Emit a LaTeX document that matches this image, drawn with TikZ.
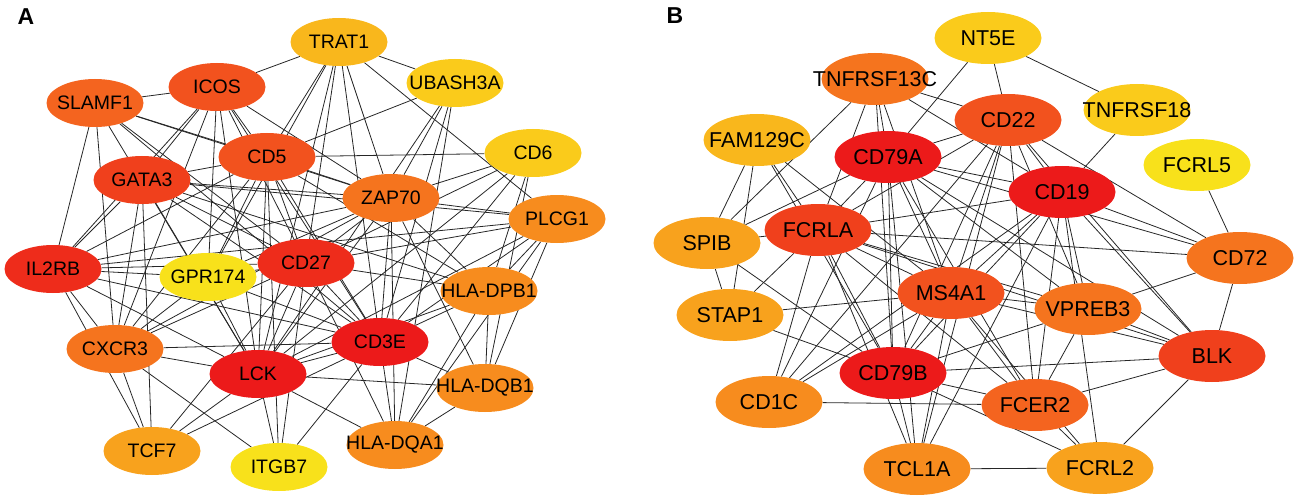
\documentclass[tikz,border=0pt]{standalone}
\usepackage{fontspec}
\setmainfont{Liberation Sans}
\usetikzlibrary{shapes.geometric,backgrounds}

% degree shades, red = high, yellow = low
\definecolor{deg1}{HTML}{EC1A1A}
\definecolor{deg2}{HTML}{EE2C1B}
\definecolor{deg3}{HTML}{F0401C}
\definecolor{deg4}{HTML}{F2521E}
\definecolor{deg5}{HTML}{F4641F}
\definecolor{deg6}{HTML}{F5741E}
\definecolor{deg7}{HTML}{F78C1E}
\definecolor{deg8}{HTML}{F8A21D}
\definecolor{deg9}{HTML}{F9B71C}
\definecolor{deg10}{HTML}{FACB1B}
\definecolor{deg11}{HTML}{F8E11B}

\newcommand{\gn}[1]{\makebox[0pt]{#1}}

\tikzset{
  gene/.style={ellipse,inner sep=0pt,minimum width=97pt,minimum height=48pt,font=\fontsize{19.5}{20}\selectfont},
  geneb/.style={gene,minimum width=107pt,minimum height=52pt,font=\fontsize{21.5}{22}\selectfont},
  link/.style={draw=black!85,line width=0.8pt},
  panel/.style={font=\bfseries\fontsize{23}{24}\selectfont}
}

\begin{document}
\begin{tikzpicture}[x=1pt,y=-1pt]
	\useasboundingbox (0,0) rectangle (1299,500);
	% panel A
	\node[panel] (labA) at (26,17) {A};
	\node[gene,fill=deg9] (trat1) at (339,42) {\gn{TRAT1}};
	\node[gene,fill=deg4] (icos) at (217,87) {\gn{ICOS}};
	\node[gene,fill=deg5] (slamf1) at (95,103) {\gn{SLAMF1}};
	\node[gene,fill=deg10] (ubash) at (455,83) {\gn{UBASH3A}};
	\node[gene,fill=deg4] (cd5) at (267,157) {\gn{CD5}};
	\node[gene,fill=deg3] (gata3) at (142,180) {\gn{GATA3}};
	\node[gene,fill=deg10] (cd6) at (533,153) {\gn{CD6}};
	\node[gene,fill=deg6] (zap70) at (391,198) {\gn{ZAP70}};
	\node[gene,fill=deg7] (plcg1) at (557,219) {\gn{PLCG1}};
	\node[gene,fill=deg2] (il2rb) at (53,269) {\gn{IL2RB}};
	\node[gene,fill=deg11] (gpr174) at (208,277) {\gn{GPR174}};
	\node[gene,fill=deg2] (cd27) at (306,263) {\gn{CD27}};
	\node[gene,fill=deg7] (dpb1) at (489,291) {\gn{HLA-DPB1}};
	\node[gene,fill=deg1] (cd3e) at (380,342) {\gn{CD3E}};
	\node[gene,fill=deg6] (cxcr3) at (115,349) {\gn{CXCR3}};
	\node[gene,fill=deg1] (lck) at (258,374) {\gn{LCK}};
	\node[gene,fill=deg7] (dqb1) at (485,388) {\gn{HLA-DQB1}};
	\node[gene,fill=deg7] (dqa1) at (395,445) {\gn{HLA-DQA1}};
	\node[gene,fill=deg8] (tcf7) at (152,451) {\gn{TCF7}};
	\node[gene,fill=deg11] (itgb7) at (279,467) {\gn{ITGB7}};

	% panel B
	\node[panel] (labB) at (675,16) {B};
	\node[geneb,fill=deg10] (nt5e) at (988,38) {\gn{NT5E}};
	\node[geneb,fill=deg6] (tnf13c) at (875,79) {\gn{TNFRSF13C}};
	\node[geneb,fill=deg4] (cd22) at (1008,120) {\gn{CD22}};
	\node[geneb,fill=deg10] (tnf18) at (1137,110) {\gn{TNFRSF18}};
	\node[geneb,fill=deg9] (fam129c) at (757,140) {\gn{FAM129C}};
	\node[geneb,fill=deg1] (cd79a) at (888,157) {\gn{CD79A}};
	\node[geneb,fill=deg1] (cd19) at (1062,192) {\gn{CD19}};
	\node[geneb,fill=deg11] (fcrl5) at (1197,165) {\gn{FCRL5}};
	\node[geneb,fill=deg8] (spib) at (707,243) {\gn{SPIB}};
	\node[geneb,fill=deg3] (fcrla) at (818,230) {\gn{FCRLA}};
	\node[geneb,fill=deg4] (ms4a1) at (951,293) {\gn{MS4A1}};
	\node[geneb,fill=deg6] (cd72) at (1240,258) {\gn{CD72}};
	\node[geneb,fill=deg6] (vpreb3) at (1088,309) {\gn{VPREB3}};
	\node[geneb,fill=deg8] (stap1) at (730,315) {\gn{STAP1}};
	\node[geneb,fill=deg1] (cd79b) at (893,373) {\gn{CD79B}};
	\node[geneb,fill=deg3] (blk) at (1212,356) {\gn{BLK}};
	\node[geneb,fill=deg7] (cd1c) at (769,402) {\gn{CD1C}};
	\node[geneb,fill=deg5] (fcer2) at (1035,405) {\gn{FCER2}};
	\node[geneb,fill=deg7] (tcl1a) at (917,469) {\gn{TCL1A}};
	\node[geneb,fill=deg8] (fcrl2) at (1100,468) {\gn{FCRL2}};

	\begin{scope}[on background layer]
		% interactions, panel A
		\foreach \a/\bs in {trat1/{icos,ubash,cd5,gpr174,cd27,lck,zap70,cd3e,plcg1},
			slamf1/{icos,il2rb,cxcr3,lck,cd5,cd27,cd3e,zap70},
			icos/{gata3,il2rb,cxcr3,gpr174,lck,cd5,cd27,cd3e,zap70},
			ubash/{cd5,zap70,lck,cd3e,dqa1},
			gata3/{cd5,il2rb,cxcr3,tcf7,lck,cd27,cd3e,zap70,dpb1,plcg1},
			cd5/{cd6,zap70,cd27,cd3e,lck,gpr174,il2rb,cxcr3,dpb1,itgb7},
			cd6/{zap70,cd27,cd3e,lck,dpb1,dqb1},
			zap70/{plcg1,cd27,cd3e,lck,il2rb,cxcr3,dqa1,dqb1,dpb1,gpr174},
			plcg1/{cd3e,lck,cd27,dpb1,dqb1,dqa1,il2rb},
			il2rb/{gpr174,cd27,cd3e,lck,cxcr3,tcf7},
			gpr174/{cd27,lck,cxcr3,cd3e},
			cd27/{cd3e,lck,cxcr3,dpb1,dqa1,tcf7,itgb7},
			cxcr3/{lck,cd3e,tcf7,itgb7},
			lck/{cd3e,dqb1,dqa1,dpb1,tcf7,itgb7},
			cd3e/{dqb1,dqa1,dpb1,tcf7,itgb7},
			dpb1/{dqb1,dqa1},
			dqb1/{dqa1}}
			\foreach \b in \bs \draw[link] (\a) -- (\b);
		% interactions, panel B
		\foreach \a/\bs in {nt5e/{cd22,tnf18,cd79a},
			tnf18/{cd19},
			fcrl5/{cd72},
			tnf13c/{spib,fcrla,cd79a,cd79b,ms4a1,cd22,cd19},
			fam129c/{spib,stap1,fcrla,ms4a1,cd79b},
			spib/{stap1,fcrla,cd79a,cd79b},
			stap1/{fcrla,ms4a1,cd79b},
			cd1c/{cd79a,fcrla,ms4a1,cd19,fcer2,cd22},
			cd22/{cd79a,cd19,fcrla,ms4a1,cd79b,vpreb3,blk,cd72,fcer2,tcl1a},
			cd79a/{cd19,fcrla,ms4a1,cd79b,vpreb3,fcer2,blk,tcl1a,cd72},
			cd19/{fcrla,ms4a1,cd79b,vpreb3,blk,fcer2,cd72,tcl1a,fcrl2},
			fcrla/{ms4a1,cd79b,vpreb3,fcer2,cd72,blk,tcl1a},
			ms4a1/{cd79b,vpreb3,fcer2,blk,tcl1a,fcrl2},
			cd79b/{vpreb3,fcer2,blk,tcl1a,fcrl2},
			vpreb3/{cd72,blk,fcer2},
			cd72/{blk},
			fcer2/{blk,fcrl2},
			blk/{fcrl2},
			tcl1a/{fcrl2}}
			\foreach \b in \bs \draw[link] (\a) -- (\b);
	\end{scope}
\end{tikzpicture}
\end{document}
